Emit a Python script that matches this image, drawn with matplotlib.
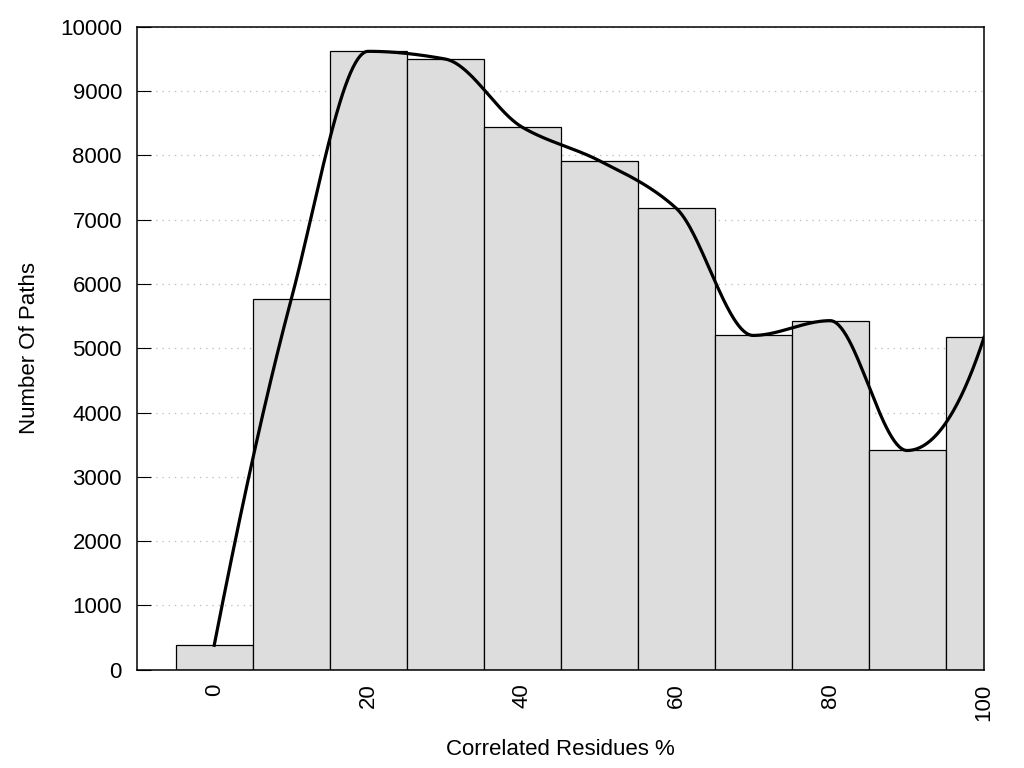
import numpy as np
import matplotlib
matplotlib.use("Agg")
import matplotlib.pyplot as plt

plt.rcParams['font.family'] = ['Liberation Sans', 'DejaVu Sans']

bins = [0, 10, 20, 30, 40, 50, 60, 70, 80, 90, 100]
counts = [380, 5760, 9620, 9500, 8440, 7920, 7180, 5200, 5430, 3410, 5170]


def pchip(x, y, xs):
    """Monotone cubic (Fritsch-Carlson) curve through (x, y)."""
    x = np.asarray(x, float)
    y = np.asarray(y, float)
    h = np.diff(x)
    d = np.diff(y) / h
    n = len(x)
    m = np.zeros(n)
    for i in range(1, n - 1):
        if d[i - 1] * d[i] > 0:
            w1 = 2 * h[i] + h[i - 1]
            w2 = h[i] + 2 * h[i - 1]
            m[i] = (w1 + w2) / (w1 / d[i - 1] + w2 / d[i])
    # end points
    m[0] = ((2 * h[0] + h[1]) * d[0] - h[0] * d[1]) / (h[0] + h[1])
    if np.sign(m[0]) != np.sign(d[0]):
        m[0] = 0
    m[-1] = ((2 * h[-1] + h[-2]) * d[-1] - h[-1] * d[-2]) / (h[-1] + h[-2])
    if np.sign(m[-1]) != np.sign(d[-1]):
        m[-1] = 0
    idx = np.clip(np.searchsorted(x, xs) - 1, 0, n - 2)
    hh = h[idx]
    t = (xs - x[idx]) / hh
    h00 = 2 * t**3 - 3 * t**2 + 1
    h10 = t**3 - 2 * t**2 + t
    h01 = -2 * t**3 + 3 * t**2
    h11 = t**3 - t**2
    return (h00 * y[idx] + h10 * hh * m[idx]
            + h01 * y[idx + 1] + h11 * hh * m[idx + 1])


fig = plt.figure(figsize=(10.24, 7.68), dpi=100)
ax = fig.add_axes([0.134, 0.128, 0.827, 0.837])

ax.bar(bins, counts, width=10, color='#dddddd', edgecolor='black',
       linewidth=0.9, zorder=2)

xs = np.linspace(bins[0], bins[-1], 600)
ax.plot(xs, pchip(bins, counts, xs), color='black', lw=2.3, zorder=3)

ax.set_xlim(-10, 100)
ax.set_ylim(0, 10000)
ax.set_yticks(range(0, 10001, 1000))
ax.set_xticks(range(0, 101, 20))
ax.tick_params(axis='x', labelrotation=90, length=0, labelsize=16, pad=10)
ax.tick_params(axis='y', direction='in', length=10, labelsize=16, pad=11)
ax.yaxis.grid(True, linestyle=(0, (1, 4)), color='#bbbbbb', linewidth=0.9, zorder=0)
ax.set_axisbelow(True)
for s in ax.spines.values():
    s.set_linewidth(1.1)

ax.set_xlabel("Correlated Residues %", fontsize=16, labelpad=13)
ax.set_ylabel("Number Of Paths", fontsize=16, labelpad=14)

fig.savefig("out.png", dpi=100)
